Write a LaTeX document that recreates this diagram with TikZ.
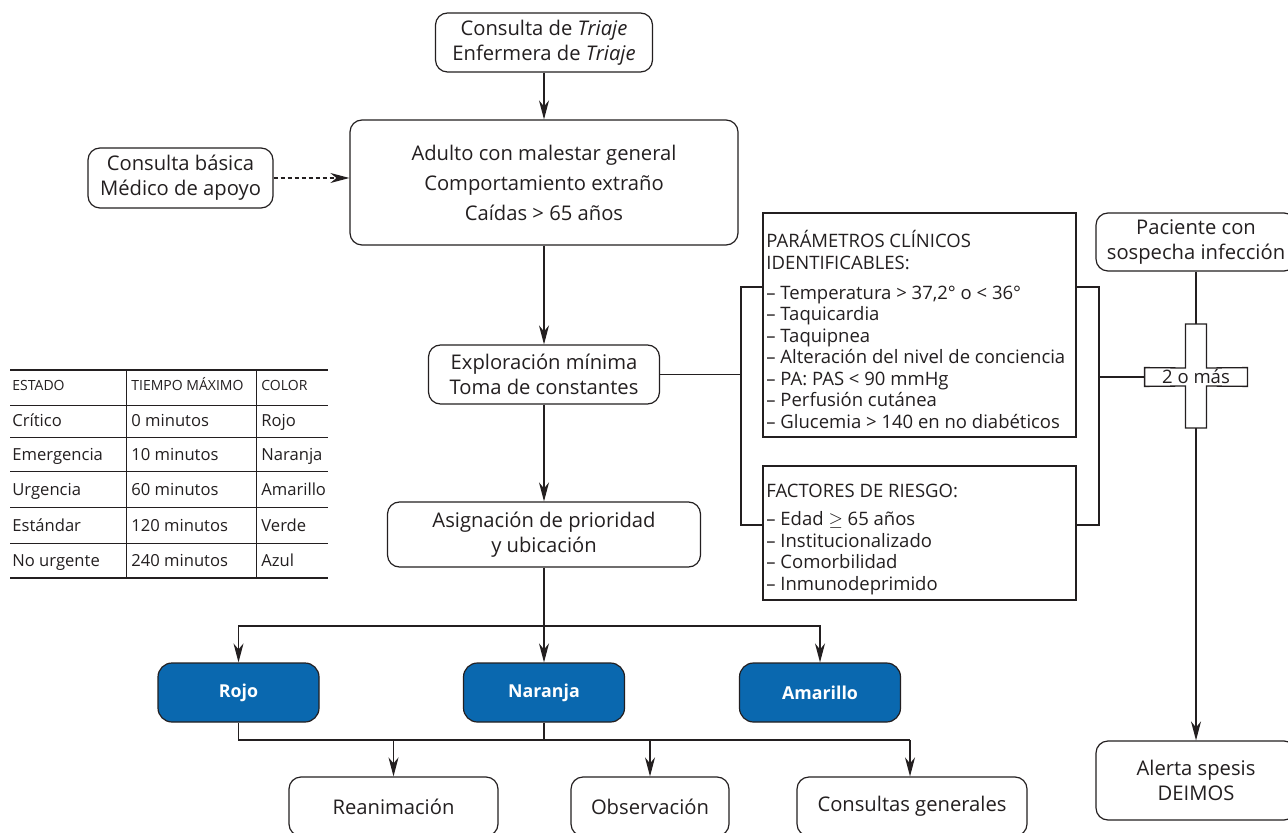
\documentclass[tikz,border=0pt]{standalone}
\usepackage{fontspec}
\setmainfont{Open Sans}
\usetikzlibrary{arrows.meta}
\definecolor{ink}{HTML}{231F20}
\definecolor{tblue}{HTML}{0A68AF}
\newcommand\mainsz{\fontsize{10.1}{12.5}\selectfont}
\newcommand\boxsz{\fontsize{9.25}{10.75}\selectfont}
\newcommand\tabsz{\fontsize{8.3}{11}\selectfont}
\newcommand\headsz{\fontsize{7}{9}\selectfont}
\begin{document}
\begin{tikzpicture}[x=0.5pt,y=-0.5pt,
  every node/.style={text=ink},
  line/.style={draw=ink, line width=0.65pt},
  arr/.style={line, -{Stealth[length=9.5pt,width=5pt,inset=3pt]}},
  rbox/.style={draw=ink, line width=0.6pt, rounded corners=6pt, align=center, inner sep=0pt, font=\mainsz},
  sqbox/.style={draw=ink, line width=0.6pt, inner sep=0pt},
  bluebox/.style={draw=ink, line width=0.6pt, rounded corners=7pt, fill=tblue, text=white, inner sep=0pt, font=\fontsize{8.9}{12}\selectfont\bfseries, minimum width=80.5pt, minimum height=29.5pt},
  listtxt/.style={anchor=north west, align=left, inner sep=0pt, font=\boxsz},
  cell/.style={anchor=base west, inner sep=0pt, font=\tabsz},
  hcell/.style={anchor=base west, inner sep=0pt, font=\headsz}
]
\fill[white] (0,0) rectangle (1288,833);
\useasboundingbox (0,0) rectangle (1288,833);

% main column
\node[rbox, minimum width=108.5pt, minimum height=29.5pt] (triaje) at (544,42.5) {Consulta de \textit{Triaje}\\Enfermera de \textit{Triaje}};
\node[rbox, minimum width=194pt, minimum height=62.5pt] (adulto) at (544,182.5) {Adulto con malestar general\\[2.5pt]Comportamiento extraño\\[2.5pt]Caídas > 65 años};
\node[rbox, minimum width=92.5pt, minimum height=30pt] (basica) at (180.5,178) {Consulta básica\\Médico de apoyo};
\node[rbox, minimum width=115.5pt, minimum height=29.5pt] (explor) at (544,374.5) {Exploración mínima\\Toma de constantes};
\node[rbox, minimum width=156.5pt, minimum height=32.5pt] (asign) at (544,534.5) {Asignación de prioridad\\y ubicación};

% clinical boxes
\node[sqbox, minimum width=156.5pt, minimum height=112pt] (param) at (919.5,325) {};
\node[listtxt] (paramtxt) at (766,230) {PARÁMETROS CLÍNICOS\\IDENTIFICABLES:\\[4.25pt]– Temperatura > 37,2° o < 36°\\– Taquicardia\\– Taquipnea\\– Alteración del nivel de conciencia\\– PA: PAS < 90 mmHg\\– Perfusión cutánea\\– Glucemia > 140 en no diabéticos};
\node[sqbox, minimum width=156.5pt, minimum height=67pt] (factores) at (919.5,533) {};
\node[listtxt] (factxt) at (766,484) {FACTORES DE RIESGO:\\[3.25pt]– Edad $\geq$ 65 años\\– Institucionalizado\\– Comorbilidad\\– Inmunodeprimido};

% right column
\node[rbox, minimum width=100pt, minimum height=29pt] (paciente) at (1196,242) {Paciente con\\sospecha infección};
\node[rbox, minimum width=100pt, minimum height=39.5pt] (alerta) at (1196,780.5) {Alerta spesis\\DEIMOS};
\node[inner sep=0pt, minimum width=51pt, minimum height=9pt, font=\boxsz] (cross) at (1196,377) {2 o más};
\coordinate (ct) at (1196,324);
\coordinate (cb) at (1196,428);
\draw[line] (1185.5,324) -- (1206.5,324) -- (1206.5,368) -- (cross.north east) -- (cross.south east) -- (1206.5,386) -- (1206.5,428) -- (1185.5,428) -- (1185.5,386) -- (cross.south west) -- (cross.north west) -- (1185.5,368) -- cycle;

% colour boxes
\node[bluebox] (rojo) at (238.5,692.5) {Rojo};
\node[bluebox] (naranja) at (544,692.5) {Naranja};
\node[bluebox] (amarillo) at (820,692.5) {Amarillo};

% destination boxes
\node[rbox, minimum width=104.5pt, minimum height=29.5pt] (reanim) at (393.5,806.5) {Reanimación};
\node[rbox, minimum width=79pt, minimum height=29.5pt] (observ) at (650,806.5) {Observación};
\node[rbox, minimum width=115pt, minimum height=29.5pt] (consultas) at (912,806.5) {Consultas generales};

% coordinates
\coordinate (lt) at (741,287);
\coordinate (lb) at (741,525);
\coordinate (rt) at (1099,287);
\coordinate (rb) at (1099,525);
\coordinate (rm) at (1099,377);
\coordinate (bus1) at (544,626);
\coordinate (bus2) at (544,740);
\coordinate (bus2end) at (910,740);

% connectors
\draw[arr] (triaje.south) -- (adulto.north);
\draw[arr, dash pattern=on 2pt off 1.5pt] (basica.east) -- (basica.east -| adulto.west);
\draw[arr] (adulto.south) -- (explor.north);
\draw[line] (explor.east) -- (explor.east -| lt);
\draw[line] (lt -| param.west) -- (lt) -- (lb) -- (lb -| factores.west);
\draw[line] (rt -| param.east) -- (rt) -- (rb) -- (rb -| factores.east);
\draw[line] (rm) -- (cross.west);
\draw[line] (paciente.south) -- (ct);
\draw[arr] (cb) -- (alerta.north);
\draw[arr] (explor.south) -- (asign.north);
\draw[line] (asign.south) -- (bus1);
\draw[arr] (bus1) -- (naranja.north);
\draw[arr] (bus1) -| (rojo.north);
\draw[arr] (bus1) -| (amarillo.north);
\draw[line] (rojo.south) |- (bus2end);
\draw[line] (naranja.south) -- (bus2);
\draw[arr] (reanim.north |- bus2) -- (reanim.north);
\draw[arr] (observ.north |- bus2) -- (observ.north);
\draw[arr] (bus2end) -- (bus2end |- consultas.north);

% table
\draw[draw=ink, line width=1pt] (10,370) -- (328,370);
\draw[draw=ink, line width=1pt] (10,578) -- (328,578);
\foreach \yy in {405,437,471,507,543} \draw[draw=ink, line width=0.4pt] (10,\yy) -- (328,\yy);
\draw[draw=ink, line width=0.5pt] (126,370) -- (126,578);
\draw[draw=ink, line width=0.5pt] (256,370) -- (256,578);
\node[hcell] (h1) at (12,391) {ESTADO};
\node[hcell] (h2) at (131,391) {TIEMPO MÁXIMO};
\node[hcell] (h3) at (261,391) {COLOR};
\node[cell] (a1) at (12,427) {Crítico};
\node[cell] (b1) at (131,427) {0 minutos};
\node[cell] (c1) at (261,427) {Rojo};
\node[cell] (a2) at (12,460) {Emergencia};
\node[cell] (b2) at (131,460) {10 minutos};
\node[cell] (c2) at (261,460) {Naranja};
\node[cell] (a3) at (12,495) {Urgencia};
\node[cell] (b3) at (131,495) {60 minutos};
\node[cell] (c3) at (261,495) {Amarillo};
\node[cell] (a4) at (12,531) {Estándar};
\node[cell] (b4) at (131,531) {120 minutos};
\node[cell] (c4) at (261,531) {Verde};
\node[cell] (a5) at (12,566) {No urgente};
\node[cell] (b5) at (131,566) {240 minutos};
\node[cell] (c5) at (261,566) {Azul};
\end{tikzpicture}
\end{document}
